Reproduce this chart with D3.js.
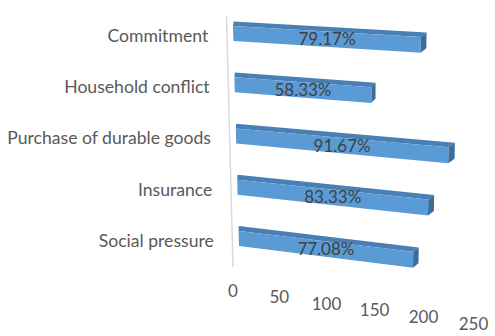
<!DOCTYPE html>
<html>
<head>
<meta charset="utf-8">
<script src="https://cdn.jsdelivr.net/npm/d3@7"></script>
<style>
  html, body { margin: 0; padding: 0; background: #ffffff; }
  svg { display: block; }
  text { font-family: Lato, "Open Sans", sans-serif; }
</style>
</head>
<body>
<svg id="chart" width="495" height="336"></svg>
<script>
// ---- data ----
const categories = ["Commitment", "Household conflict", "Purchase of durable goods", "Insurance", "Social pressure"];
const values = [190, 140, 220, 200, 185];
const pctLabels = ["79.17%", "58.33%", "91.67%", "83.33%", "77.08%"];
const tickValues = [0, 50, 100, 150, 200, 250];

// ---- 3D-ish projection planes (front and back of the bars) ----
const frontPlane = { p00: [233, 26], p10: [480.4, 40.5], p01: [239, 246], p11: [474.1, 275.3] };
const backPlane  = { p00: [233.6, 21.5], p10: [487.5, 36], p01: [239.2, 241], p11: [481.5, 271] };
function proj(q, u, v) {
  return [
    (1-u)*(1-v)*q.p00[0] + u*(1-v)*q.p10[0] + (1-u)*v*q.p01[0] + u*v*q.p11[0],
    (1-u)*(1-v)*q.p00[1] + u*(1-v)*q.p10[1] + (1-u)*v*q.p01[1] + u*v*q.p11[1]
  ];
}
const F = (u, v) => proj(frontPlane, u, v);
const B = (u, v) => proj(backPlane, u, v);

const x = d3.scaleLinear().domain([0, 250]).range([0, 1]);
const y = d3.scaleBand().domain(categories).range([0, 1]).paddingInner(0.706).paddingOuter(0);

const svg = d3.select("#chart");

// back wall line
svg.append("path")
  .attr("d", "M226.5,16 L233,267")
  .attr("stroke", "#d9d9d9")
  .attr("stroke-width", 1.5)
  .attr("fill", "none");

const data = categories.map((c, i) => ({ cat: c, value: values[i], label: pctLabels[i] }));
const poly = pts => "M" + pts.map(p => p[0].toFixed(2) + "," + p[1].toFixed(2)).join("L") + "Z";

const bars = svg.append("g").selectAll("g").data(data).join("g");
bars.each(function(d) {
  const g = d3.select(this);
  const u1 = x(d.value), v0 = y(d.cat), v1 = v0 + y.bandwidth();
  g.append("path").attr("d", poly([F(0, v0), F(u1, v0), B(u1, v0), B(0, v0)])).attr("fill", "#4a7fb4");
  g.append("path").attr("d", poly([F(u1, v0), F(u1, v1), B(u1, v1), B(u1, v0)])).attr("fill", "#3e6c99");
  g.append("path").attr("d", poly([F(0, v0), F(u1, v0), F(u1, v1), F(0, v1)])).attr("fill", "#5b9bd5");
  const c = F(u1 / 2, v0 + y.bandwidth() / 2);
  g.append("text")
    .attr("x", c[0]).attr("y", c[1] + 6)
    .attr("text-anchor", "middle")
    .attr("font-size", 17)
    .attr("fill", "#404040")
    .text(d.label);
});

// category labels
svg.append("g").selectAll("text").data(categories).join("text")
  .attr("x", d => F(0, y(d) + y.bandwidth() / 2)[0] - 25)
  .attr("y", d => F(0, y(d) + y.bandwidth() / 2)[1] + 8.3)
  .attr("text-anchor", "end")
  .attr("font-size", 17.6)
  .attr("fill", "#595959")
  .text(d => d);

// value axis tick labels on the floor (perspective)
function floorPos(v) {
  const t = x(v), p = -0.046;
  const tt = t * (1 + p) / (1 + p * t);
  return [233 + 240.5 * tt, 297 + 33 * tt];
}
svg.append("g").selectAll("text").data(tickValues).join("text")
  .attr("x", d => floorPos(d)[0])
  .attr("y", d => floorPos(d)[1])
  .attr("text-anchor", "middle")
  .attr("font-size", 17)
  .attr("fill", "#595959")
  .text(d => d);
</script>
</body>
</html>
